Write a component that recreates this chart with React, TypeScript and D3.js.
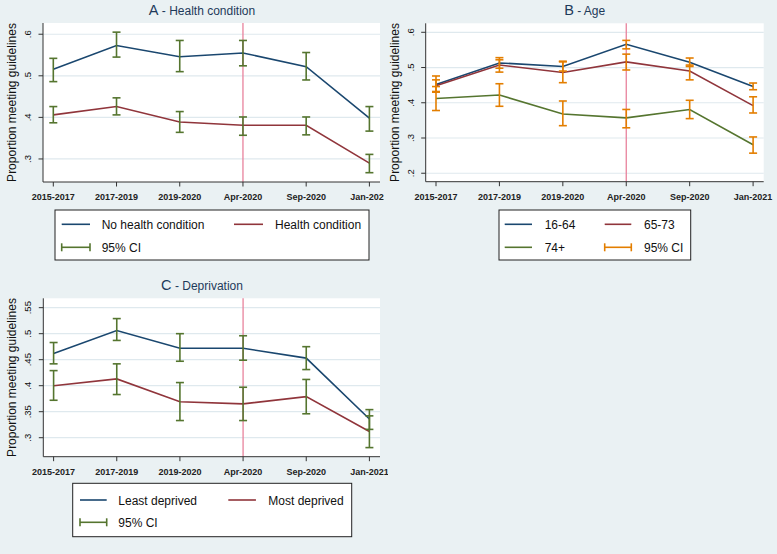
import React from 'react';
import * as d3 from 'd3';

// ---------- Data ----------
const categories = ['2015-2017', '2017-2019', '2019-2020', 'Apr-2020', 'Sep-2020', 'Jan-2021'];
const markerCategory = 'Apr-2020';

// Panel A - Health condition
const noHealth = [0.516, 0.573, 0.546, 0.555, 0.522, 0.398];
const noHealthLo = [0.486, 0.545, 0.51, 0.524, 0.49, 0.367];
const noHealthHi = [0.542, 0.605, 0.585, 0.585, 0.556, 0.426];
const health = [0.406, 0.426, 0.389, 0.381, 0.381, 0.29];
const healthLo = [0.387, 0.406, 0.364, 0.357, 0.358, 0.267];
const healthHi = [0.426, 0.447, 0.414, 0.401, 0.401, 0.311];
const ticksA = [0.3, 0.4, 0.5, 0.6];
const tickLabelsA = ['.3', '.4', '.5', '.6'];

// Panel B - Age
const age1664 = [0.452, 0.513, 0.503, 0.566, 0.515, 0.446];
const age1664Lo = [0.432, 0.498, 0.49, 0.553, 0.503, 0.437];
const age1664Hi = [0.476, 0.528, 0.518, 0.577, 0.527, 0.456];
const age6573 = [0.448, 0.507, 0.486, 0.516, 0.49, 0.392];
const age6573Lo = [0.43, 0.487, 0.457, 0.493, 0.465, 0.371];
const age6573Hi = [0.465, 0.522, 0.516, 0.538, 0.507, 0.417];
const age74 = [0.412, 0.422, 0.368, 0.357, 0.381, 0.281];
const age74Lo = [0.378, 0.39, 0.335, 0.329, 0.355, 0.257];
const age74Hi = [0.446, 0.454, 0.405, 0.381, 0.407, 0.303];
const ticksB = [0.2, 0.3, 0.4, 0.5, 0.6];
const tickLabelsB = ['.2', '.3', '.4', '.5', '.6'];

// Panel C - Deprivation
const least = [0.462, 0.506, 0.472, 0.472, 0.453, 0.336];
const leastLo = [0.442, 0.487, 0.447, 0.449, 0.431, 0.316];
const leastHi = [0.483, 0.529, 0.5, 0.496, 0.475, 0.354];
const most = [0.4, 0.413, 0.369, 0.365, 0.379, 0.312];
const mostLo = [0.372, 0.383, 0.333, 0.333, 0.346, 0.281];
const mostHi = [0.429, 0.442, 0.406, 0.397, 0.412, 0.342];
const ticksC = [0.3, 0.35, 0.4, 0.45, 0.5, 0.55];
const tickLabelsC = ['.3', '.35', '.4', '.45', '.5', '.55'];

// ---------- Styles ----------
const BLUE = '#1a476f';
const RED = '#90353b';
const GREEN = '#55752f';
const ORANGE = '#e37e00';
const PINK = '#e8829c';
const BG = '#eaf1f3';
const GRID = '#dfe9ee';
const AXIS = '#333';
const FONT = 'Arial, "Liberation Sans", Helvetica, sans-serif';

type Series = { color: string; values: number[]; lo: number[]; hi: number[] };
type LegendItem = { label: string; color: string; kind: 'line' | 'ci'; row: number; col: number };

interface PanelProps {
  id: string;
  x0: number;
  y0: number;
  w: number;
  h: number;
  titleLetter: string;
  titleRest: string;
  titleX: number;
  titleY: number;
  yTitleX: number;
  plot: { left: number; right: number; top: number; bottom: number };
  domain: [number, number];
  ticks: number[];
  tickLabels: string[];
  series: Series[];
  ciColor: string;
  legendBox: { x: number; y: number; w: number; h: number };
  legendRows: number[];
  legendCols: { x1: number; x2: number; tx: number }[];
  legend: LegendItem[];
}

function Panel(p: PanelProps) {
  const { plot } = p;
  const pad = 10.3;
  const x = d3.scalePoint<string>().domain(categories).range([plot.left + pad, plot.right - pad - 0.3]);
  const y = d3.scaleLinear().domain(p.domain).range([plot.bottom, plot.top]);
  const line = d3
    .line<number>()
    .x((_, i) => x(categories[i]) as number)
    .y((d) => y(d));
  const cap = 4;
  const mx = x(markerCategory) as number;
  return (
    <g transform={`translate(${p.x0},${p.y0})`} clipPath={`url(#clip-${p.id})`}>
      <defs>
        <clipPath id={`clip-${p.id}`}>
          <rect x={0} y={0} width={p.w} height={p.h} />
        </clipPath>
      </defs>
      <rect x={0} y={0} width={p.w} height={p.h} fill={BG} />
      <text x={p.titleX} y={p.titleY} textAnchor="middle" fontFamily={FONT} fill="#1e3a5a">
        <tspan fontSize={14.5}>{p.titleLetter}</tspan>
        <tspan fontSize={12}>{p.titleRest}</tspan>
      </text>
      <rect x={plot.left} y={plot.top} width={plot.right - plot.left} height={plot.bottom - plot.top} fill="#fff" />
      {p.ticks.map((t, i) => (
        <g key={i}>
          <line x1={plot.left} x2={plot.right} y1={y(t)} y2={y(t)} stroke={GRID} strokeWidth={1.2} />
          <line x1={plot.left - 4.5} x2={plot.left} y1={y(t)} y2={y(t)} stroke={AXIS} strokeWidth={1} />
          <text
            transform={`translate(${plot.left - 12},${y(t)}) rotate(-90)`}
            textAnchor="middle"
            fontFamily={FONT}
            fontSize={9.5}
            fill="#111"
          >
            {p.tickLabels[i]}
          </text>
        </g>
      ))}
      <line x1={mx} x2={mx} y1={plot.top} y2={plot.bottom} stroke={PINK} strokeWidth={1.3} />
      {p.series.map((s, i) => (
        <path key={i} d={line(s.values) || ''} fill="none" stroke={s.color} strokeWidth={1.6} />
      ))}
      {p.series.map((s, i) => (
        <g key={'ci' + i} stroke={p.ciColor} strokeWidth={1.6}>
          {categories.map((c, j) => {
            const cx = x(c) as number;
            return (
              <g key={j}>
                <line x1={cx} x2={cx} y1={y(s.lo[j])} y2={y(s.hi[j])} />
                <line x1={cx - cap} x2={cx + cap} y1={y(s.lo[j])} y2={y(s.lo[j])} />
                <line x1={cx - cap} x2={cx + cap} y1={y(s.hi[j])} y2={y(s.hi[j])} />
              </g>
            );
          })}
        </g>
      ))}
      {/* axes */}
      <line x1={plot.left} x2={plot.left} y1={plot.top} y2={plot.bottom} stroke={AXIS} strokeWidth={1} />
      <line x1={plot.left} x2={plot.right} y1={plot.bottom} y2={plot.bottom} stroke={AXIS} strokeWidth={1} />
      {categories.map((c, i) => (
        <g key={i}>
          <line x1={x(c)} x2={x(c)} y1={plot.bottom} y2={plot.bottom + 4.5} stroke={AXIS} strokeWidth={1} />
          <text
            x={x(c)}
            y={plot.bottom + 18}
            textAnchor="middle"
            fontFamily={FONT}
            fontSize={9}
            fontWeight="bold"
            fill="#222"
          >
            {c}
          </text>
        </g>
      ))}
      <text
        transform={`translate(${p.yTitleX},${(plot.top + plot.bottom) / 2}) rotate(-90)`}
        textAnchor="middle"
        fontFamily={FONT}
        fontSize={12}
        fill="#111"
      >
        Proportion meeting guidelines
      </text>
      {/* legend */}
      <rect
        x={p.legendBox.x}
        y={p.legendBox.y}
        width={p.legendBox.w}
        height={p.legendBox.h}
        fill="#fff"
        stroke="#222"
        strokeWidth={1}
      />
      {p.legend.map((it, i) => {
        const col = p.legendCols[it.col];
        const ry = p.legendRows[it.row];
        return (
          <g key={i}>
            {it.kind === 'line' ? (
              <line x1={col.x1} x2={col.x2} y1={ry} y2={ry} stroke={it.color} strokeWidth={1.6} />
            ) : (
              <g stroke={it.color} strokeWidth={1.6}>
                <line x1={col.x1} x2={col.x2} y1={ry} y2={ry} />
                <line x1={col.x1} x2={col.x1} y1={ry - 4} y2={ry + 4} />
                <line x1={col.x2} x2={col.x2} y1={ry - 4} y2={ry + 4} />
              </g>
            )}
            <text x={col.tx} y={ry + 4.5} fontFamily={FONT} fontSize={12} fill="#111">
              {it.label}
            </text>
          </g>
        );
      })}
    </g>
  );
}

export default function App() {
  const seriesA: Series[] = [
    { color: BLUE, values: noHealth, lo: noHealthLo, hi: noHealthHi },
    { color: RED, values: health, lo: healthLo, hi: healthHi },
  ];
  const seriesB: Series[] = [
    { color: BLUE, values: age1664, lo: age1664Lo, hi: age1664Hi },
    { color: RED, values: age6573, lo: age6573Lo, hi: age6573Hi },
    { color: GREEN, values: age74, lo: age74Lo, hi: age74Hi },
  ];
  const seriesC: Series[] = [
    { color: BLUE, values: least, lo: leastLo, hi: leastHi },
    { color: RED, values: most, lo: mostLo, hi: mostHi },
  ];
  return (
    <svg
      width={777}
      height={554}
      style={{ position: 'absolute', left: 0, top: 0, display: 'block' }}
      xmlns="http://www.w3.org/2000/svg"
    >
      <rect x={0} y={0} width={777} height={554} fill={BG} />
      <Panel
        id="A"
        x0={0}
        y0={0}
        w={384}
        h={270}
        titleLetter="A"
        titleRest=" - Health condition"
        titleX={202}
        titleY={14.5}
        yTitleX={16}
        plot={{ left: 43, right: 380, top: 23, bottom: 182 }}
        domain={[0.2446, 0.627]}
        ticks={ticksA}
        tickLabels={tickLabelsA}
        series={seriesA}
        ciColor={GREEN}
        legendBox={{ x: 55, y: 210, w: 314, h: 50 }}
        legendRows={[224.3, 247.3]}
        legendCols={[
          { x1: 61.7, x2: 90, tx: 101.7 },
          { x1: 234, x2: 263, tx: 275 },
        ]}
        legend={[
          { label: 'No health condition', color: BLUE, kind: 'line', row: 0, col: 0 },
          { label: 'Health condition', color: RED, kind: 'line', row: 0, col: 1 },
          { label: '95% CI', color: GREEN, kind: 'ci', row: 1, col: 0 },
        ]}
      />
      <Panel
        id="B"
        x0={388}
        y0={0}
        w={389}
        h={270}
        titleLetter="B"
        titleRest=" - Age"
        titleX={196.7}
        titleY={14.5}
        yTitleX={10.5}
        plot={{ left: 37.7, right: 375.7, top: 23.3, bottom: 181.7 }}
        domain={[0.176, 0.6255]}
        ticks={ticksB}
        tickLabels={tickLabelsB}
        series={seriesB}
        ciColor={ORANGE}
        legendBox={{ x: 111, y: 210, w: 191.7, h: 50 }}
        legendRows={[224.3, 247.3]}
        legendCols={[
          { x1: 116.7, x2: 144, tx: 156.7 },
          { x1: 216.7, x2: 243.3, tx: 256 },
        ]}
        legend={[
          { label: '16-64', color: BLUE, kind: 'line', row: 0, col: 0 },
          { label: '65-73', color: RED, kind: 'line', row: 0, col: 1 },
          { label: '74+', color: GREEN, kind: 'line', row: 1, col: 0 },
          { label: '95% CI', color: ORANGE, kind: 'ci', row: 1, col: 1 },
        ]}
      />
      <Panel
        id="C"
        x0={0}
        y0={270}
        w={388}
        h={284}
        titleLetter="C"
        titleRest=" - Deprivation"
        titleX={202}
        titleY={19.5}
        yTitleX={16}
        plot={{ left: 43.3, right: 380, top: 28.3, bottom: 186.7 }}
        domain={[0.2635, 0.568]}
        ticks={ticksC}
        tickLabels={tickLabelsC}
        series={seriesC}
        ciColor={GREEN}
        legendBox={{ x: 72.7, y: 213.3, w: 279, h: 53.4 }}
        legendRows={[230, 252.3]}
        legendCols={[
          { x1: 80, x2: 106.7, tx: 118.3 },
          { x1: 228.3, x2: 256, tx: 268.3 },
        ]}
        legend={[
          { label: 'Least deprived', color: BLUE, kind: 'line', row: 0, col: 0 },
          { label: 'Most deprived', color: RED, kind: 'line', row: 0, col: 1 },
          { label: '95% CI', color: GREEN, kind: 'ci', row: 1, col: 0 },
        ]}
      />
    </svg>
  );
}
